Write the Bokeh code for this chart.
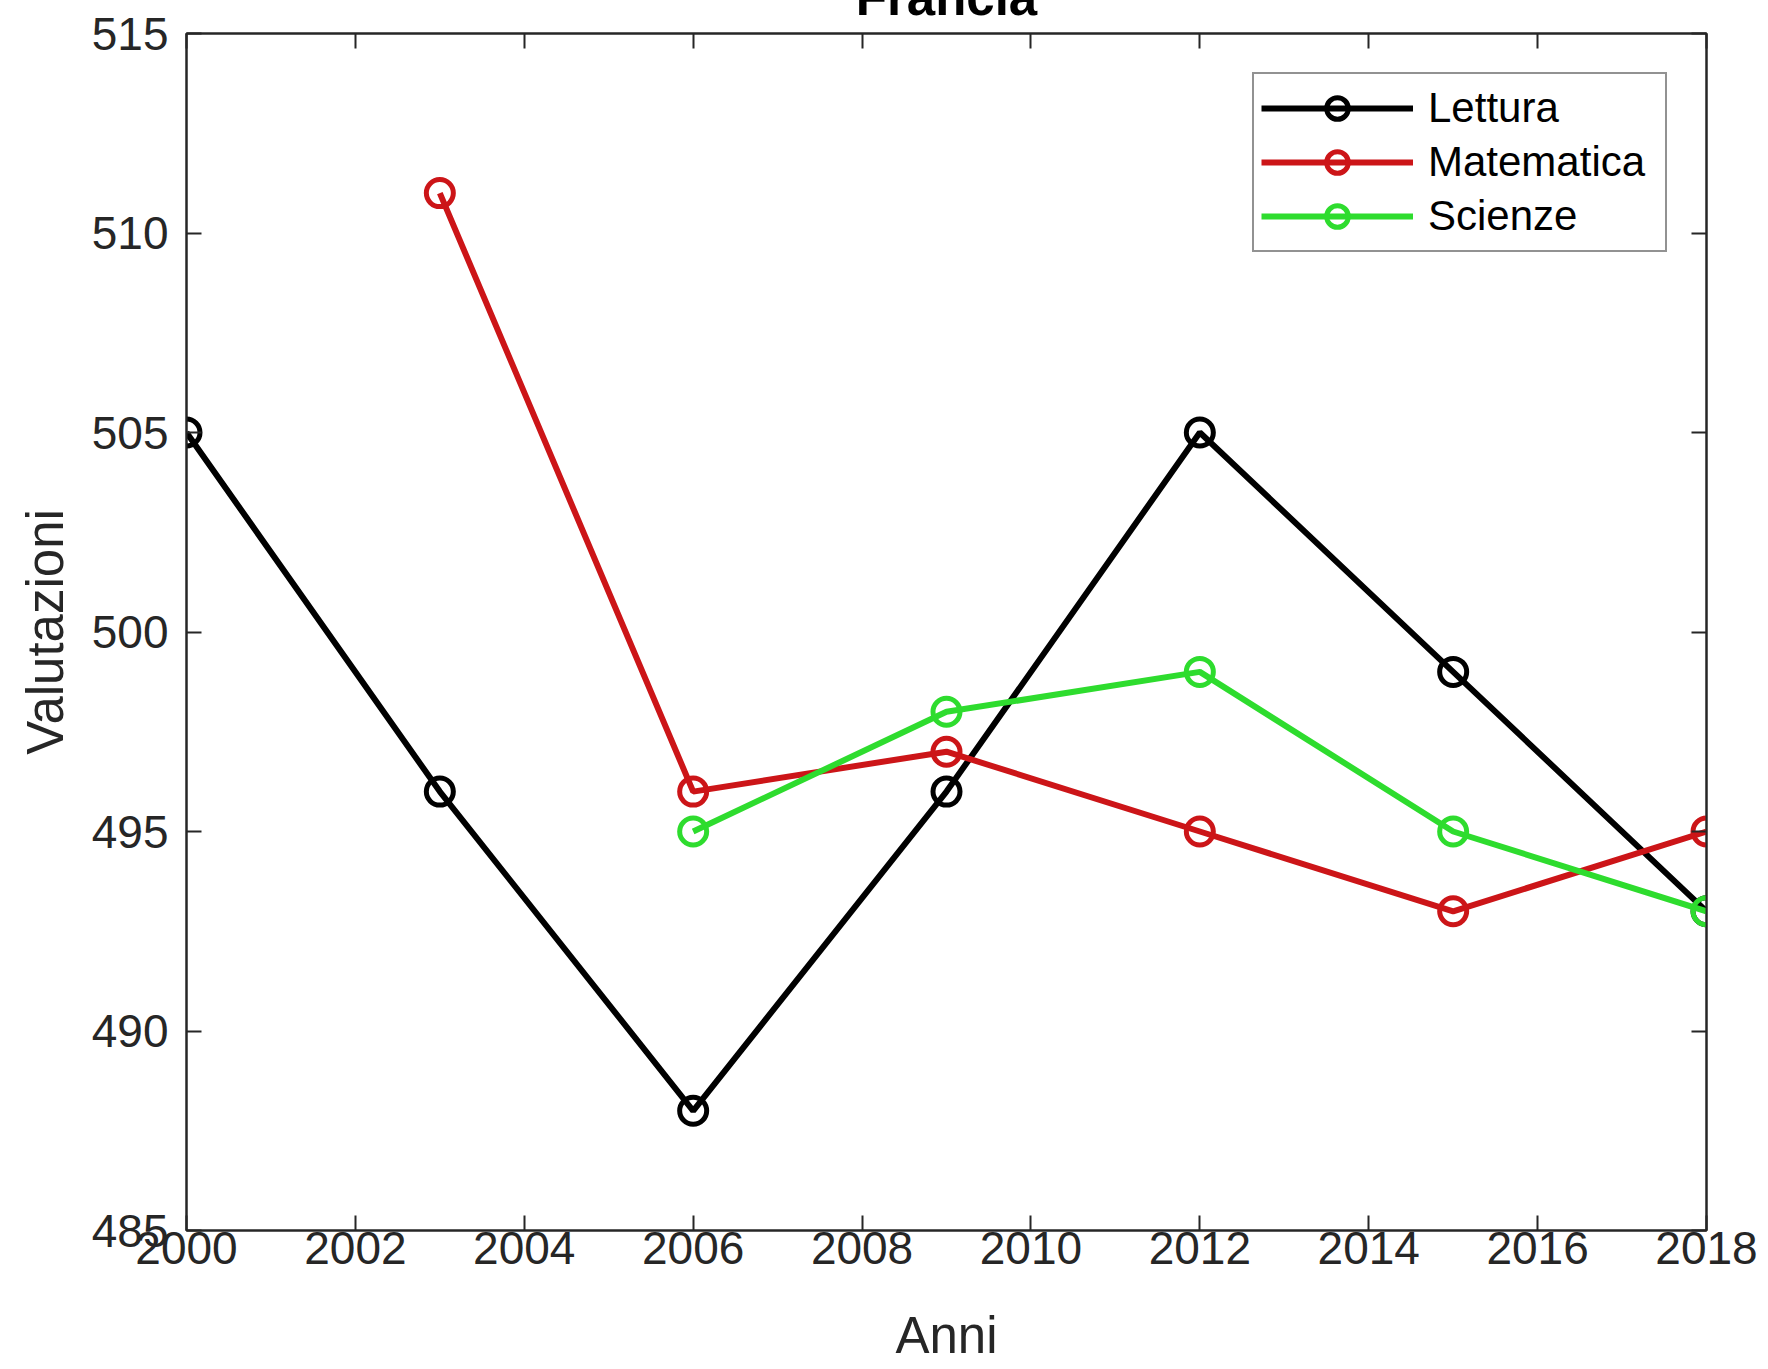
from bokeh.plotting import figure
from bokeh.models import LinearAxis, Range1d, FixedTicker, Title, Legend
from bokeh.embed import file_html
from bokeh.resources import INLINE

years_lettura = [2000, 2003, 2006, 2009, 2012, 2015, 2018]
lettura = [505, 496, 488, 496, 505, 499, 493]
years_mat = [2003, 2006, 2009, 2012, 2015, 2018]
matematica = [511, 496, 497, 495, 493, 495]
years_sci = [2006, 2009, 2012, 2015, 2018]
scienze = [495, 498, 499, 495, 493]

x_ticks = [2000, 2002, 2004, 2006, 2008, 2010, 2012, 2014, 2016, 2018]
y_ticks = [485, 490, 495, 500, 505, 510, 515]

FONT = "Liberation Sans"
AX = "#262626"

SHIFT = 45  # part of the canvas pushed above the page top (title is cut off there)
FRAME_TOP, FRAME_BOTTOM = 33, 1230
W = 1760
BOTTOM_BORDER = 137
H = SHIFT + FRAME_BOTTOM + BOTTOM_BORDER
p = figure(width=W, height=H, output_backend="svg", toolbar_location=None,
           x_range=Range1d(2000, 2018), y_range=Range1d(485, 515),
           min_border_left=186, min_border_right=W - 1706,
           min_border_top=FRAME_TOP + SHIFT, min_border_bottom=BOTTOM_BORDER,
           background_fill_color="white", border_fill_color="white",
           styles={"margin-top": f"-{SHIFT}px"})
p.grid.visible = False
p.outline_line_color = AX
p.outline_line_width = 2

for ax in (p.xaxis[0], p.yaxis[0]):
    ax.major_tick_in = 15
    ax.major_tick_out = 0
    ax.minor_tick_in = 0
    ax.minor_tick_out = 0
    ax.axis_line_color = AX
    ax.axis_line_width = 2
    ax.major_tick_line_color = AX
    ax.major_tick_line_width = 2
    ax.major_label_text_font = FONT
    ax.major_label_text_font_size = "46px"
    ax.major_label_text_color = AX
    ax.axis_label_text_font = FONT
    ax.axis_label_text_font_size = "51px"
    ax.axis_label_text_font_style = "normal"
    ax.axis_label_text_color = AX

p.xaxis.ticker = FixedTicker(ticks=x_ticks)
p.yaxis.ticker = FixedTicker(ticks=y_ticks)
p.xaxis.axis_label = "Anni"
p.yaxis.axis_label = "Valutazioni"
p.xaxis.major_label_standoff = 1
p.yaxis.major_label_standoff = 18
p.xaxis.axis_label_standoff = 40
p.yaxis.axis_label_standoff = 15

top = LinearAxis(ticker=FixedTicker(ticks=x_ticks), major_tick_in=15, major_tick_out=0,
                 minor_tick_in=0, minor_tick_out=0, major_label_text_font_size="0px",
                 axis_line_color=AX, axis_line_width=2, major_tick_line_color=AX,
                 major_tick_line_width=2, major_label_standoff=0)
right = LinearAxis(ticker=FixedTicker(ticks=y_ticks), major_tick_in=15, major_tick_out=0,
                   minor_tick_in=0, minor_tick_out=0, major_label_text_font_size="0px",
                   axis_line_color=AX, axis_line_width=2, major_tick_line_color=AX,
                   major_tick_line_width=2, major_label_standoff=0)
p.add_layout(top, "above")
p.add_layout(right, "right")

series = [
    ("Lettura", years_lettura, lettura, "#000000"),
    ("Matematica", years_mat, matematica, "#CC1518"),
    ("Scienze", years_sci, scienze, "#2EDC2E"),
]
items = []
for name, xs, ys, col in series:
    l = p.line(xs, ys, line_color=col, line_width=6)
    s = p.scatter(xs, ys, marker="circle", size=27, fill_color=None,
                  line_color=col, line_width=5)
    items.append((name, [l, s]))

legend = Legend(items=items, location="top_right")
legend.label_text_font = FONT
legend.label_text_font_size = "42px"
legend.label_text_color = "#000000"
legend.glyph_width = 152
legend.glyph_height = 54
legend.label_height = 54
legend.label_width = 230
legend.label_standoff = 15
legend.spacing = 0
legend.padding = 7
legend.margin = 39
legend.border_line_color = AX
legend.border_line_width = 2
legend.background_fill_color = "white"
legend.background_fill_alpha = 1
p.add_layout(legend, "center")

title = Title(text="Francia", align="center", vertical_align="bottom",
              text_font=FONT, text_font_size="51px", text_font_style="bold",
              text_color="#000000", standoff=16)
p.add_layout(title, "above")

open("out.html", "w").write(file_html(p, INLINE))
